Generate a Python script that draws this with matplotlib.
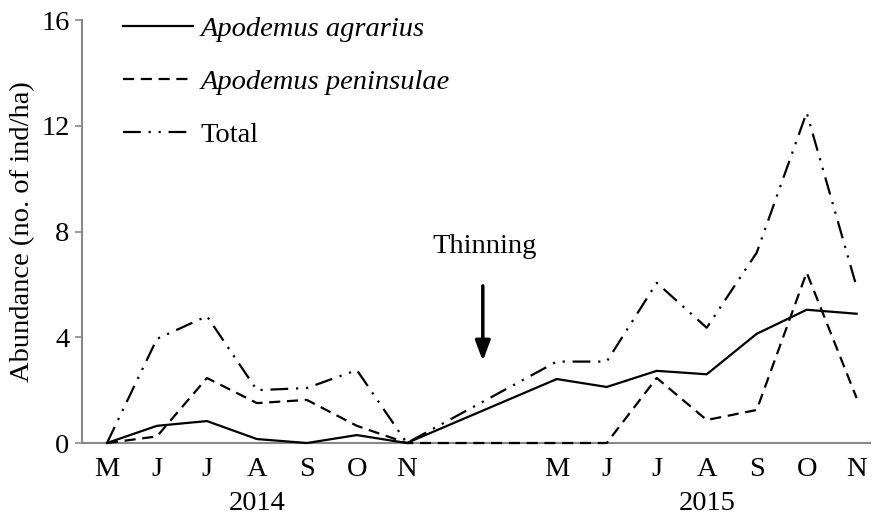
import numpy as np
import matplotlib.pyplot as plt

plt.rcParams['font.family'] = ['Liberation Serif', 'DejaVu Serif']

months = ['M', 'J', 'J', 'A', 'S', 'O', 'N']
years = ['2014', '2015']
# positions: 2014 May-Nov, then gap, 2015 May-Nov
pos = np.array([0, 1, 2, 3, 4, 5, 6, 9, 10, 11, 12, 13, 14, 15])

agrarius = [0, 0.65, 0.83, 0.15, 0.0, 0.3, 0.0,
            2.42, 2.12, 2.73, 2.6, 4.13, 5.04, 4.89]
peninsulae = [0, 0.25, 2.46, 1.51, 1.63, 0.65, 0.0,
              0.0, 0.0, 2.46, 0.87, 1.25, 6.45, 1.7]
total = [0, 3.94, 4.8, 2.0, 2.08, 2.76, 0.0,
         3.08, 3.08, 6.06, 4.36, 7.2, 12.5, 5.9]

fs = 20.5

fig = plt.figure(figsize=(8.74, 5.17), dpi=100)
ax = fig.add_axes([0.0938, 0.1431, 0.9012, 0.8182])

ax.plot(pos, agrarius, color='black', lw=1.6, label='Apodemus agrarius',
        zorder=3, clip_on=False)
ax.plot(pos, peninsulae, color='black', lw=1.6, ls=(0, (5, 3)),
        label='Apodemus peninsulae', zorder=3, clip_on=False)
ax.plot(pos, total, color='black', lw=1.6, ls=(0, (8, 3.5, 1, 3.5, 1, 3.5)),
        label='Total', zorder=3, clip_on=False)

ax.set_xlim(-0.5, 15.26)
ax.set_ylim(0, 16)
ax.set_yticks([0, 4, 8, 12, 16])
ax.set_xticks(pos)
ax.set_xticklabels(months + months)
ax.tick_params(axis='x', length=0, pad=10, labelsize=fs)
ax.tick_params(axis='y', length=5, width=1.2, color='#888888', labelsize=fs, pad=4)

for s in ['top', 'right']:
    ax.spines[s].set_visible(False)
for s in ['left', 'bottom']:
    ax.spines[s].set_color('#888888')
    ax.spines[s].set_linewidth(1.5)

ax.set_ylabel('Abundance (no. of ind/ha)', fontsize=fs, labelpad=4)

# year labels
ax.text(3, -0.143, years[0], transform=ax.get_xaxis_transform(),
        ha='center', va='center', fontsize=fs)
ax.text(12, -0.143, years[1], transform=ax.get_xaxis_transform(),
        ha='center', va='center', fontsize=fs)

# thinning arrow
ax.annotate('', xy=(7.52, 3.0), xytext=(7.52, 6.05),
            arrowprops=dict(arrowstyle='-|>,head_length=1.2,head_width=0.45',
                            color='black', lw=2.5))
ax.text(7.55, 7.45, 'Thinning', ha='center', va='center', fontsize=fs)

leg = ax.legend(loc='upper left', bbox_to_anchor=(0.02, 1.07), frameon=False,
                fontsize=fs, handlelength=2.45, handletextpad=0.25,
                labelspacing=0.95)
leg.get_texts()[0].set_style('italic')
leg.get_texts()[1].set_style('italic')

fig.savefig('out.png', dpi=100)
